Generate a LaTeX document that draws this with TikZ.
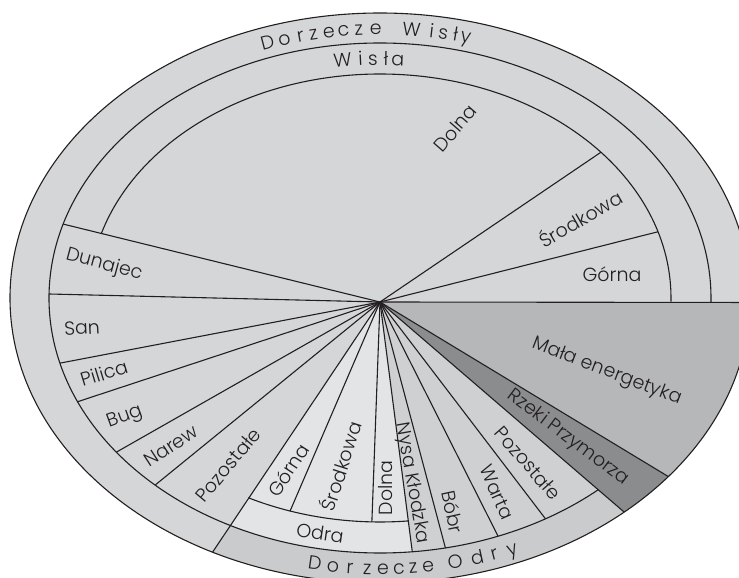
\documentclass[tikz,border=0pt]{standalone}
\usepackage{fontspec}
\setmainfont{Poppins}[UprightFont={* Light}]
\definecolor{wisla}{HTML}{D5D6D8}
\definecolor{odramain}{HTML}{E3E4E5}
\definecolor{trib}{HTML}{CFD0D2}
\definecolor{dorzodry}{HTML}{CACBCD}
\definecolor{mala}{HTML}{B6B7B9}
\definecolor{rzeki}{HTML}{8B8C8E}
\definecolor{linec}{HTML}{231F20}
\definecolor{txt}{HTML}{231F20}
\begin{document}
\begin{tikzpicture}[x=1pt,y=1pt,
  edge/.style={draw=linec, line width=1.1pt, line join=round},
  lbl/.style={font=\fontsize{19}{22}\selectfont, text=txt, inner sep=0pt},
  arcl/.style={font=\fontsize{19}{22}\selectfont, text=txt, inner sep=0pt, text height=13.3pt, text depth=0pt, anchor=center}]
\useasboundingbox (-380,-280) rectangle (359,298);
\clip (-380,-280) rectangle (359,298);
\fill[white] (-380,-280) rectangle (359,298);
\coordinate (P) at (0,-4);
% fills
\fill[wisla] (P) -- (-0.9:370 and 285) arc[start angle=-0.9, end angle=243.1, x radius=370, y radius=285] -- cycle;
\fill[dorzodry] (243.1:331 and 255) -- (243.1:370 and 285) arc[start angle=243.1, end angle=311.3, x radius=370, y radius=285] -- (311.3:331 and 255) arc[start angle=311.3, end angle=243.1, x radius=331, y radius=255] -- cycle;
\fill[odramain] (P) -- (243.1:331 and 255) arc[start angle=243.1, end angle=275.6, x radius=331, y radius=255] -- cycle;
\fill[trib] (P) -- (275.6:331 and 255) arc[start angle=275.6, end angle=311.3, x radius=331, y radius=255] -- cycle;
\fill[rzeki] (P) -- (311.3:370 and 285) arc[start angle=311.3, end angle=321.2, x radius=370, y radius=285] -- cycle;
\fill[mala] (P) -- (321.2:370 and 285) arc[start angle=321.2, end angle=359.1, x radius=370, y radius=285] -- cycle;
% arcs
\draw[edge] (0,0) ellipse [x radius=370, y radius=285];
\draw[edge] (-0.9:331 and 255) arc[start angle=-0.9, end angle=311.3, x radius=331, y radius=255];
\draw[edge] (-0.9:291 and 224) arc[start angle=-0.9, end angle=163.15, x radius=291, y radius=224];
\draw[edge] (243.1:291 and 224) arc[start angle=243.1, end angle=275.6, x radius=291, y radius=224];
% radial lines
\foreach \n/\a/\rx/\ry in {z/-0.9/370/285, gsw/17.2/291/224, sdw/40.6/291/224, dd/163.15/331/255, ds/179.1/331/255, sp/194.8/331/255, pb/204.0/331/255, bn/217.2/331/255, np/227.2/331/255, pg/243.1/370/285, gso/252.0/291/224, sdo/268.4/291/224, dn/275.6/331/255, nb/281.4/331/255, bw/290.9/331/255, wp/300.0/331/255, pr/311.3/370/285, rm/321.2/370/285}
  {\coordinate (e\n) at ({\rx*cos(\a)},{\ry*sin(\a)}); \draw[edge] (P) -- (e\n);}
% curved texts
\foreach \t/\c [count=\i] in {108.75/D,105.85/o,103.14/r,100.97/z,98.42/e,96.01/c,93.48/z,90.70/e,84.81/W,81.52/i,79.60/s,77.53/ł,75.79/y}
  {\node[arcl, rotate={atan2(-270*cos(\t),350.5*sin(\t))}] (dw\i) at ({350.5*cos(\t)},{270*sin(\t)}) {\c};}
\foreach \t/\c [count=\i] in {96.9/W,93.6/i,91.3/s,88.9/ł,86.7/a}
  {\node[arcl, rotate={atan2(-239.5*cos(\t),311*sin(\t))}] (w\i) at ({311*cos(\t)},{239.5*sin(\t)}) {\c};}
\foreach \t/\c [count=\i] in {259.3/D,262.3/o,265.1/r,267.9/z,270.5/e,273.1/c,275.4/z,277.9/e,282.4/O,286.1/d,289.0/r,292.1/y}
  {\node[arcl, rotate={atan2(270*cos(\t),-350.5*sin(\t))}] (do\i) at ({350.5*cos(\t)},{270*sin(\t)}) {\c};}
\node[arcl, rotate=-8.5] (odra) at ({311*cos(258.9)},{239.5*sin(258.9)}) {Odra};
% wedge labels
\node[lbl, rotate=49] (wdolna) at (75,170) {Dolna};
\node[lbl, rotate=30] (wsrod) at (200,80) {Środkowa};
\node[lbl, rotate=0] (wgorna) at (232,24) {Górna};
\node[lbl, rotate=-15] (dunajec) at (-276,33) {Dunajec};
\node[lbl, rotate=3] (san) at (-298,-30) {San};
\node[lbl, rotate=17] (pilica) at (-276,-75) {Pilica};
\node[lbl, rotate=20] (bug) at (-255,-119) {Bug};
\node[lbl, rotate=33] (narew) at (-209,-148) {Narew};
\node[lbl, rotate=50] (wpoz) at (-152,-167) {Pozostałe};
\node[lbl, rotate=57] (ogorna) at (-92,-172) {Górna};
\node[lbl, rotate=72] (osrod) at (-40,-168) {Środkowa};
\node[lbl, rotate=90] (odolna) at (6,-190) {Dolna};
\node[lbl, rotate=-80] (nysa) at (32,-185) {Nysa Kłodzka};
\node[lbl, rotate=-78] (bobr) at (73,-214) {Bóbr};
\node[lbl, rotate=-66] (warta) at (117,-194) {Warta};
\node[lbl, rotate=-49] (opoz) at (148,-165) {Pozostałe};
\node[lbl, rotate=-37] (rzekit) at (188,-140) {Rzeki Przymorza};
\node[lbl, rotate=-21] (malat) at (227,-74) {Mała energetyka};
\end{tikzpicture}
\end{document}
